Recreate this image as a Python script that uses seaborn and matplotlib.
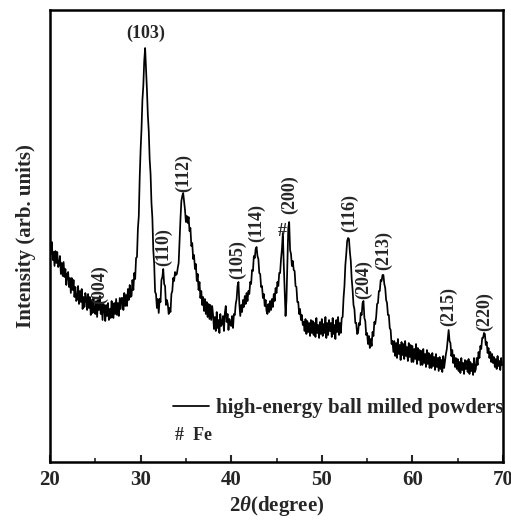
import numpy as np
import pandas as pd
import matplotlib
matplotlib.use("Agg")
import matplotlib.pyplot as plt
from matplotlib.ticker import MultipleLocator
import seaborn as sns

# 2theta from 20.0 to 70.0 in 0.1 deg steps, one row per degree
two_theta = np.round(np.arange(20.0, 70.01, 0.1), 1)
intensity = [
    221, 208, 220, 202, 210, 196, 211, 199, 210, 195,  # 20
    197, 206, 188, 199, 186, 200, 185, 193, 177, 188,  # 21
    190, 175, 184, 169, 184, 172, 182, 165, 175, 161,  # 22
    163, 176, 158, 171, 160, 173, 153, 165, 155, 169,  # 23
    164, 152, 168, 154, 165, 147, 162, 149, 164, 151,  # 24
    148, 161, 145, 162, 152, 166, 148, 158, 142, 158,  # 25
    155, 141, 157, 146, 159, 142, 153, 144, 161, 147,  # 26
    144, 159, 148, 163, 147, 159, 146, 164, 153, 164,  # 27
    164, 152, 169, 156, 167, 156, 173, 162, 177, 165,  # 28
    166, 182, 172, 189, 183, 204, 205, 233, 246, 284,  # 29
    312, 333, 362, 376, 401, 414, 393, 372, 347, 331,  # 30
    303, 288, 259, 244, 212, 198, 170, 168, 154, 163,  # 31
    149, 163, 160, 182, 185, 193, 178, 176, 157, 162,  # 32
    158, 148, 154, 150, 168, 171, 184, 181, 190, 187,  # 33
    188, 194, 199, 222, 243, 261, 266, 269, 260, 252,  # 34
    240, 246, 239, 245, 231, 234, 216, 219, 203, 207,  # 35
    193, 198, 181, 188, 172, 180, 164, 171, 157, 165,  # 36
    151, 163, 148, 160, 145, 158, 143, 157, 142, 156,  # 37
    147, 133, 145, 131, 150, 134, 142, 129, 148, 136,  # 38
    139, 146, 131, 149, 156, 140, 148, 132, 143, 138,  # 39
    136, 146, 134, 148, 147, 158, 163, 176, 180, 158,  # 40
    146, 157, 150, 162, 155, 166, 158, 169, 161, 171,  # 41
    168, 180, 178, 192, 191, 206, 204, 213, 215, 206,  # 42
    203, 189, 188, 175, 176, 164, 168, 156, 162, 151,  # 43
    148, 158, 150, 161, 152, 163, 155, 168, 161, 174,  # 44
    169, 180, 176, 189, 189, 203, 213, 229, 198, 172,  # 45
    146, 162, 198, 234, 240, 212, 208, 196, 201, 192,  # 46
    191, 176, 175, 160, 160, 148, 153, 142, 147, 137,  # 47
    140, 131, 143, 128, 141, 130, 139, 126, 142, 129,  # 48
    141, 127, 139, 125, 144, 129, 137, 124, 140, 128,  # 49
    143, 126, 138, 129, 145, 124, 139, 127, 142, 131,  # 50
    139, 125, 144, 128, 137, 123, 142, 130, 145, 127,  # 51
    139, 129, 144, 145, 164, 176, 197, 208, 221, 224,  # 52
    223, 210, 201, 183, 172, 157, 153, 139, 139, 128,  # 53
    129, 139, 137, 149, 147, 159, 161, 144, 141, 127,  # 54
    129, 118, 126, 114, 123, 116, 130, 126, 140, 138,  # 55
    145, 158, 159, 171, 171, 182, 181, 187, 187, 178,  # 56
    174, 162, 159, 147, 147, 134, 132, 118, 121, 110,  # 57
    121, 106, 119, 104, 123, 108, 117, 102, 120, 107,  # 58
    118, 103, 121, 106, 115, 101, 119, 105, 117, 100,  # 59
    116, 100, 113, 103, 118, 98, 114, 102, 112, 97,    # 60
    111, 97, 113, 99, 108, 95, 112, 98, 109, 94,       # 61
    107, 94, 109, 96, 105, 92, 108, 95, 104, 91,       # 62
    105, 93, 102, 90, 106, 94, 101, 108, 113, 122,     # 63
    132, 121, 119, 106, 112, 99, 107, 95, 104, 93,     # 64
    103, 91, 100, 89, 104, 92, 99, 88, 102, 93,        # 65
    101, 90, 103, 88, 100, 91, 98, 87, 104, 90,        # 66
    93, 104, 97, 110, 104, 116, 113, 124, 124, 129,    # 67
    128, 117, 120, 109, 114, 104, 110, 100, 108, 99,   # 68
    105, 95, 103, 93, 106, 96, 101, 92, 104, 97,       # 69
    97,                                                # 70
]

# peak labels: text, 2theta, height
peak_names = ["(103)", "(004)", "(110)", "(112)", "(105)", "(114)", "#", "(200)",
              "(116)", "(204)", "(213)", "(215)", "(220)"]
peak_pos = [30.6, 25.5, 32.5, 34.8, 40.7, 42.8, 45.6, 46.5, 53.1, 54.6, 56.8, 64.0, 68.0]
peak_height = [429, 177, 215, 289, 202, 239, 231, 267, 249, 182, 212, 155, 150]

df = pd.DataFrame({"two_theta": two_theta, "intensity": intensity})

sns.set_theme(style="white")
plt.rcParams["font.family"] = ["Liberation Serif", "DejaVu Serif"]
plt.rcParams["font.weight"] = "bold"
plt.rcParams["axes.labelweight"] = "bold"
plt.rcParams["mathtext.fontset"] = "custom"
plt.rcParams["mathtext.rm"] = "Liberation Serif:bold"
plt.rcParams["mathtext.it"] = "Liberation Serif:italic:bold"

fig = plt.figure(figsize=(5.11, 5.21), dpi=100)
ax = fig.add_axes([50 / 511, 59 / 521, 453 / 511, 452 / 521])

sns.lineplot(data=df, x="two_theta", y="intensity", color="black", lw=1.25,
             label="high-energy ball milled powders", ax=ax)

for name, x, y in zip(peak_names, peak_pos, peak_height):
    rot = 0 if name in ("(103)", "#") else 90
    ax.text(x, y, name, ha="center", va="center", rotation=rot,
            fontsize=13, fontweight="bold")

ax.text(33.8, 26, "#  Fe", ha="left", va="center", fontsize=13, fontweight="bold")

ax.legend(loc="center left", bbox_to_anchor=(0.2715, 0.1195), frameon=False,
          borderpad=0, borderaxespad=0, handlelength=1.75, handletextpad=0.3,
          prop={"size": 15, "weight": "bold"})

ax.set_xlim(20, 70)
ax.set_ylim(0, 452)
ax.set_yticks([])
ax.xaxis.set_major_locator(MultipleLocator(10))
ax.xaxis.set_minor_locator(MultipleLocator(5))
ax.tick_params(axis="x", which="major", direction="in", length=5, width=1.5,
               labelsize=15, pad=6, bottom=True, top=False)
ax.tick_params(axis="x", which="minor", direction="in", length=3, width=1.2,
               bottom=True, top=False)
for s in ax.spines.values():
    s.set_linewidth(1.8)
    s.set_color("black")

ax.set_xlabel(r"2$\theta$(degree)", fontsize=15, labelpad=3)
ax.set_ylabel("Intensity (arb. units)", fontsize=15, labelpad=10)

fig.savefig("out.png", dpi=100)
